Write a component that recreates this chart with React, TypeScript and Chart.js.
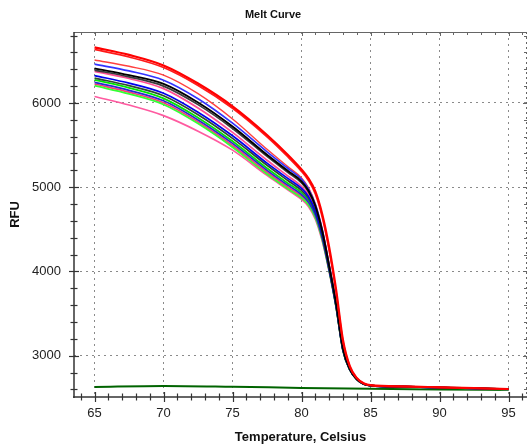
import React, { useEffect, useRef } from "react";
import { Chart } from "chart.js/auto";

const TITLE = "Melt Curve";
const X_TITLE = "Temperature, Celsius";
const Y_TITLE = "RFU";

const X_MIN = 63.51;
const X_MAX = 96.34;
const Y_MIN = 2510;
const Y_MAX = 6842;
const X_TICKS = [65, 70, 75, 80, 85, 90, 95];
const Y_TICKS = [3000, 4000, 5000, 6000];

// temperatures shared by the melt curves
const TEMPS = [65, 67.5, 70, 72.5, 75, 77.5, 79, 80, 80.5, 81, 81.5, 82, 82.5, 83, 83.5, 84, 84.5, 85, 87.5, 90, 92.5, 95];

const redA = [6660, 6570, 6445, 6230, 5960, 5620, 5385, 5210, 5105, 4950, 4680, 4290, 3790, 3190, 2875, 2737, 2673, 2650, 2635, 2625, 2615, 2605];
const redB = [6635, 6545, 6420, 6207, 5937, 5598, 5362, 5188, 5080, 4920, 4645, 4250, 3760, 3170, 2868, 2734, 2671, 2649, 2634, 2624, 2614, 2604];
const redC = [6510, 6435, 6330, 6110, 5810, 5450, 5245, 5110, 4995, 4805, 4505, 4090, 3640, 3100, 2845, 2725, 2667, 2648, 2633, 2623, 2613, 2603];
const blueA = [6460, 6380, 6270, 6050, 5760, 5420, 5225, 5095, 4980, 4795, 4495, 4075, 3630, 3092, 2843, 2724, 2667, 2647, 2633, 2623, 2613, 2603];
const blackA = [6410, 6330, 6225, 6005, 5720, 5385, 5195, 5070, 4960, 4780, 4480, 4065, 3622, 3085, 2841, 2723, 2666, 2647, 2633, 2623, 2613, 2603];
const blackB = [6390, 6310, 6200, 5980, 5697, 5365, 5177, 5052, 4945, 4770, 4472, 4060, 3618, 3082, 2840, 2722, 2666, 2647, 2633, 2623, 2613, 2603];
const pinkA = [6375, 6290, 6170, 5940, 5650, 5320, 5135, 5010, 4910, 4735, 4445, 4045, 3605, 3076, 2838, 2722, 2665, 2646, 2632, 2622, 2612, 2602];
const blueB = [6325, 6235, 6115, 5890, 5610, 5285, 5105, 4985, 4890, 4720, 4435, 4038, 3600, 3073, 2837, 2721, 2665, 2646, 2632, 2622, 2612, 2602];
const darkC = [6295, 6205, 6085, 5860, 5580, 5260, 5080, 4962, 4870, 4705, 4425, 4032, 3596, 3070, 2836, 2721, 2665, 2646, 2632, 2622, 2612, 2602];
const greenA = [6275, 6180, 6055, 5825, 5545, 5225, 5048, 4935, 4845, 4685, 4410, 4025, 3592, 3068, 2835, 2720, 2664, 2645, 2632, 2622, 2612, 2602];
const blueC = [6245, 6150, 6025, 5798, 5520, 5200, 5025, 4912, 4825, 4670, 4400, 4020, 3588, 3066, 2834, 2720, 2664, 2645, 2631, 2621, 2611, 2601];
const pinkB = [6225, 6128, 6002, 5775, 5495, 5177, 5002, 4890, 4808, 4655, 4390, 4015, 3585, 3064, 2834, 2720, 2664, 2645, 2631, 2621, 2611, 2601];
const greenB = [6205, 6108, 5982, 5755, 5475, 5157, 4982, 4872, 4792, 4640, 4380, 4010, 3582, 3062, 2833, 2719, 2663, 2644, 2631, 2621, 2611, 2601];
const pinkC = [6077, 5975, 5850, 5665, 5440, 5140, 4970, 4855, 4770, 4620, 4360, 4000, 3578, 3060, 2832, 2719, 2663, 2644, 2631, 2621, 2611, 2601];

// no-template control (flat)
const NTC_TEMPS = [65, 70, 75, 80, 85, 90, 95];
const ntc = [2630, 2642, 2632, 2618, 2607, 2600, 2592];

// first entry is drawn on top
const SERIES = [
  { vals: redA, color: "#ff0000", w: 2.2 },
  { vals: redB, color: "#ff1a1a", w: 1.7 },
  { vals: blackA, color: "#000000", w: 1.9 },
  { vals: blackB, color: "#3a3a3a", w: 1.7 },
  { vals: blueA, color: "#3333ff", w: 1.7 },
  { vals: blueB, color: "#0000ee", w: 1.7 },
  { vals: darkC, color: "#2e4a2e", w: 1.7 },
  { vals: blueC, color: "#2a2ad0", w: 1.7 },
  { vals: redC, color: "#ff4040", w: 1.4 },
  { vals: greenA, color: "#00e600", w: 1.8 },
  { vals: greenB, color: "#33ff33", w: 1.8 },
  { vals: pinkA, color: "#ff4d94", w: 1.7 },
  { vals: pinkB, color: "#ff3377", w: 1.7 },
  { vals: pinkC, color: "#ff5aa0", w: 1.7 },
];

const FONT = '"Liberation Sans", Arial, sans-serif';

const framePlugin = {
  id: "frame",
  afterDraw(chart: any) {
    const { ctx, chartArea, scales } = chart;
    const { left, right, top, bottom } = chartArea;
    const x = scales.x;
    const y = scales.y;
    ctx.save();
    // chart title
    ctx.fillStyle = "#111";
    ctx.font = `bold 11px ${FONT}`;
    ctx.textAlign = "center";
    ctx.textBaseline = "middle";
    ctx.fillText(TITLE, 273, 15);

    const seg = (x1: number, y1: number, x2: number, y2: number) => {
      ctx.beginPath();
      ctx.moveTo(x1, y1);
      ctx.lineTo(x2, y2);
      ctx.stroke();
    };
    // top border
    ctx.strokeStyle = "#666";
    ctx.lineWidth = 1;
    seg(left, top + 0.5, right, top + 0.5);
    // right border (dotted)
    ctx.setLineDash([2, 3]);
    seg(right - 0.5, top, right - 0.5, bottom);
    ctx.setLineDash([]);
    // top and right small ticks
    for (let v = Math.ceil(x.min); v <= Math.floor(x.max); v++) {
      const px = Math.round(x.getPixelForValue(v)) + 0.5;
      seg(px, top, px, top + (v % 5 === 0 ? 4 : 3));
    }
    for (let v = 2600; v <= Y_MAX; v += 200) {
      const py = Math.round(y.getPixelForValue(v)) + 0.5;
      seg(right, py, right - (v % 1000 === 0 ? 4 : 3), py);
    }
    // main axes
    ctx.strokeStyle = "#333";
    ctx.lineWidth = 1.5;
    seg(left, top, left, bottom + 1);
    seg(left - 1, bottom, right, bottom);
    ctx.lineWidth = 1.2;
    for (let v = Math.ceil(x.min); v <= Math.floor(x.max); v++) {
      const px = Math.round(x.getPixelForValue(v)) + 0.5;
      const L = v % 5 === 0 ? 5 : 3.5;
      seg(px, bottom - L, px, bottom + L);
    }
    for (let v = 2600; v <= Y_MAX; v += 200) {
      const py = Math.round(y.getPixelForValue(v)) + 0.5;
      const L = v % 1000 === 0 ? 5 : 3.5;
      seg(left - L, py, left + L, py);
    }
    ctx.restore();
  },
};

export default function App() {
  const ref = useRef<HTMLCanvasElement | null>(null);
  useEffect(() => {
    document.body.style.margin = "0";
    const canvas = ref.current;
    if (!canvas) return;
    const datasets: any[] = SERIES.map((s, k) => ({
      label: "S" + (k + 1),
      data: TEMPS.map((t, i) => ({ x: t, y: s.vals[i] })),
      borderColor: s.color,
      backgroundColor: s.color,
      borderWidth: s.w,
      pointRadius: 0,
      cubicInterpolationMode: "monotone",
      fill: false,
    }));
    datasets.push({
      label: "NTC",
      data: NTC_TEMPS.map((t, i) => ({ x: t, y: ntc[i] })),
      borderColor: "#006400",
      backgroundColor: "#006400",
      borderWidth: 2,
      pointRadius: 0,
      cubicInterpolationMode: "monotone",
      fill: false,
    });
    const tickFont = { family: FONT, size: 13 };
    const titleFont = { family: FONT, size: 13, weight: "bold" as const };
    const chart = new Chart(canvas, {
      type: "line",
      data: { datasets },
      plugins: [framePlugin],
      options: {
        animation: false,
        responsive: false,
        devicePixelRatio: 1,
        layout: { padding: { top: 32, right: 1, bottom: 0, left: 0 } },
        plugins: {
          legend: { display: false },
          title: { display: false },
          tooltip: { enabled: false },
        },
        scales: {
          x: {
            type: "linear",
            min: X_MIN,
            max: X_MAX,
            afterBuildTicks: (s: any) => {
              s.ticks = X_TICKS.map((v) => ({ value: v }));
            },
            afterFit: (s: any) => {
              s.height = 49;
            },
            ticks: {
              padding: 9,
              color: "#222",
              font: tickFont,
              autoSkip: false,
              maxRotation: 0,
              callback: (v: any) => String(v),
            },
            grid: { color: "#8a8a8a", lineWidth: 1, drawTicks: false },
            border: { display: false, dash: [2, 4] },
            title: {
              display: true,
              text: X_TITLE,
              color: "#111",
              font: titleFont,
              padding: { top: 0, bottom: 1 },
            },
          },
          y: {
            type: "linear",
            min: Y_MIN,
            max: Y_MAX,
            afterBuildTicks: (s: any) => {
              s.ticks = Y_TICKS.map((v) => ({ value: v }));
            },
            afterFit: (s: any) => {
              s.width = 74;
            },
            ticks: {
              padding: 13,
              color: "#222",
              font: tickFont,
              autoSkip: false,
              callback: (v: any) => String(v),
            },
            grid: { color: "#8a8a8a", lineWidth: 1, drawTicks: false },
            border: { display: false, dash: [2, 4] },
            title: {
              display: true,
              text: Y_TITLE,
              color: "#111",
              font: titleFont,
              padding: { top: 8, bottom: 0 },
            },
          },
        },
      },
    });
    return () => chart.destroy();
  }, []);
  return (
    <div style={{ position: "fixed", left: 0, top: 0, width: 528, height: 446, background: "#fff" }}>
      <canvas ref={ref} width={528} height={446} style={{ width: 528, height: 446, display: "block" }} />
    </div>
  );
}
